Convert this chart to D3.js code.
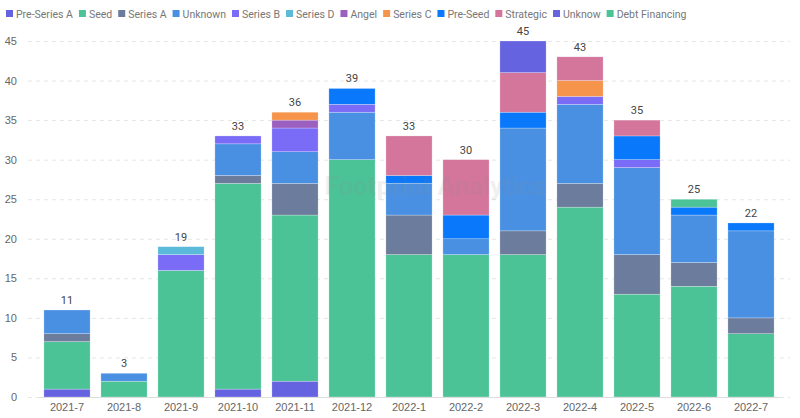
<!DOCTYPE html>
<html><head><meta charset="utf-8">
<script src="https://cdn.jsdelivr.net/npm/d3@7"></script>
<style>body{margin:0;background:#fff;font-family:Roboto,"Liberation Sans",Arial,sans-serif}</style>
</head><body><svg id="c" width="800" height="418"></svg>
<script>
const months=["2021-7","2021-8","2021-9","2021-10","2021-11","2021-12","2022-1","2022-2","2022-3","2022-4","2022-5","2022-6","2022-7"];
const seriesNames=["Pre-Series A","Seed","Series A","Unknown","Series B","Series D","Angel","Series C","Pre-Seed","Strategic","Unknow","Debt Financing"];
const colors=["#6563e0","#4cc397","#6c7c9c","#4a90e2","#7a6cf7","#5bbad9","#9b5fc0","#f5944a","#0a78fa","#d4769c","#6563e0","#4cc397"];
const preSeriesA=[1,0,0,1,2,0,0,0,0,0,0,0,0];
const seed=[6,2,16,26,21,30,18,18,18,24,13,14,8];
const seriesA=[1,0,0,1,4,0,5,0,3,3,5,3,2];
const unknown=[3,1,0,4,4,6,4,2,13,10,11,6,11];
const seriesB=[0,0,2,1,3,1,0,0,0,1,1,0,0];
const seriesD=[0,0,1,0,0,0,0,0,0,0,0,0,0];
const angel=[0,0,0,0,1,0,0,0,0,0,0,0,0];
const seriesC=[0,0,0,0,1,0,0,0,0,2,0,0,0];
const preSeed=[0,0,0,0,0,2,1,3,2,0,3,1,1];
const strategic=[0,0,0,0,0,0,5,7,5,3,2,0,0];
const unknow=[0,0,0,0,0,0,0,0,4,0,0,0,0];
const debt=[0,0,0,0,0,0,0,0,0,0,0,1,0];
const yTicks=[0,5,10,15,20,25,30,35,40,45];
const vals=[preSeriesA,seed,seriesA,unknown,seriesB,seriesD,angel,seriesC,preSeed,strategic,unknow,debt];

const svg=d3.select("#c");
const x=d3.scaleBand().domain(months).range([38.5,779.5]).paddingInner(0.19).paddingOuter(0.095);
const y=d3.scaleLinear().domain([0,45]).range([397,41]);
const data=months.map((m,i)=>{const o={m};seriesNames.forEach((s,j)=>o[s]=vals[j][i]);return o;});
const stack=d3.stack().keys(seriesNames)(data);

svg.append("g").selectAll("line").data(yTicks).join("line")
 .attr("x1",28).attr("x2",790).attr("y1",d=>y(d)+0.5).attr("y2",d=>y(d)+0.5)
 .attr("stroke","#e6e6e6").attr("stroke-dasharray","4,4");
const ya=svg.append("g").attr("transform","translate(20,0)").call(d3.axisLeft(y).tickValues(yTicks).tickSize(0));
ya.select(".domain").remove();
ya.selectAll("text").attr("fill","#666").attr("font-size",11);

svg.append("g").selectAll("g").data(stack).join("g").attr("fill",(d,i)=>colors[i])
 .selectAll("rect").data(d=>d).join("rect")
 .attr("x",d=>x(d.data.m)).attr("width",x.bandwidth())
 .attr("y",d=>y(d[1])).attr("height",d=>y(d[0])-y(d[1]))
 .attr("stroke","#fff").attr("stroke-opacity",0.5).attr("stroke-width",0.5);

// watermark
svg.append("text").attr("x",435).attr("y",195).attr("text-anchor","middle").attr("font-size",26).attr("font-weight","bold")
 .attr("fill","#888").attr("opacity",0.12).text("Footprint Analytics");

const totals=months.map((m,i)=>d3.sum(vals,v=>v[i]));
svg.append("g").selectAll("text").data(months).join("text")
 .attr("x",m=>x(m)+x.bandwidth()/2).attr("y",(m,i)=>y(totals[i])-6)
 .attr("text-anchor","middle").attr("font-size",11).attr("fill","#444").text((m,i)=>totals[i]);

const xa=svg.append("g").attr("transform","translate(0,397)").call(d3.axisBottom(x).tickSize(0).tickPadding(6));
xa.select(".domain").attr("stroke","#ddd");
xa.selectAll("text").attr("fill","#666").attr("font-size",11);

const lg=svg.append("g").attr("transform","translate(6,14)");
let lx=0;
seriesNames.forEach((s,i)=>{
 const g=lg.append("g").attr("transform",`translate(${lx},0)`);
 g.append("rect").attr("x",0).attr("y",-4).attr("width",7).attr("height",7).attr("fill",colors[i]);
 const t=g.append("text").attr("x",10).attr("y",3.5).attr("font-size",10.5).attr("fill","#777").attr("textLength",null).text(s);
 lx+=10+t.node().getComputedTextLength()+6;
});
</script></body></html>
